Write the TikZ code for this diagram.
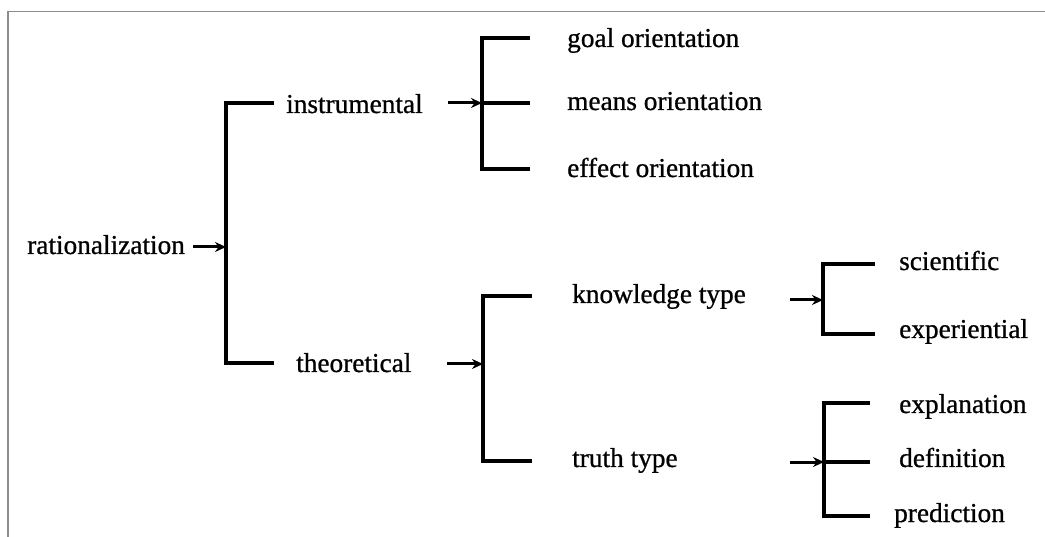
\documentclass[tikz,border=0pt]{standalone}
\usepackage{fontspec}
\setmainfont{Liberation Serif}
\newfontfamily\lblfont[FakeBold=0.8]{Liberation Serif}
\usetikzlibrary{arrows.meta}
\begin{document}
\begin{tikzpicture}[x=1pt,y=-1pt,
  lbl/.style={anchor=base west,inner sep=0pt,font=\lblfont\fontsize{27.3}{30}\selectfont},
  brk/.style={line width=3.2pt,line join=miter},
  arr/.style={line width=3pt,-{Stealth[length=11pt,width=10pt]}},
  frameline/.style={draw=black!45,line width=1.6pt}]
\useasboundingbox (0,0) rectangle (1045,537);
% frame
\coordinate (fTL) at (8,11.5);
\coordinate (fTR) at (1045,11.5);
\coordinate (fBL) at (8,537);
\draw[frameline] (fTR) -- (fTL) -- (fBL);

% labels
\node[lbl] (rat)  at (27,254) {rationalization};
\node[lbl] (ins)  at (286,113) {instrumental};
\node[lbl] (the)  at (296,372) {theoretical};
\node[lbl] (goal) at (567,47)  {goal orientation};
\node[lbl] (mean) at (567,110) {means orientation};
\node[lbl] (eff)  at (567,177) {effect orientation};
\node[lbl] (know) at (572,303) {knowledge type};
\node[lbl] (tru)  at (572,467) {truth type};
\node[lbl] (sci)  at (899,270) {scientific};
\node[lbl] (exp)  at (899,338) {experiential};
\node[lbl] (expl) at (899,413) {explanation};
\node[lbl] (def)  at (899,467) {definition};
\node[lbl] (pred) at (894,522) {prediction};

% bracket 1
\coordinate (b1t) at (226,103); \coordinate (b1b) at (226,363);
\coordinate (b1te) at (274,103); \coordinate (b1be) at (274,363);
\coordinate (b1a) at (226,247); \coordinate (a1) at (193,247);
\draw[brk] (b1te) -- (b1t) -- (b1b) -- (b1be);
\draw[arr] (a1) -- (b1a);

% bracket 2
\coordinate (b2t) at (482,38); \coordinate (b2b) at (482,169);
\coordinate (b2te) at (530,38); \coordinate (b2be) at (530,169);
\coordinate (b2m) at (482,103); \coordinate (b2me) at (530,103);
\coordinate (a2) at (448,103);
\draw[brk] (b2te) -- (b2t) -- (b2b) -- (b2be);
\draw[brk] (b2m) -- (b2me);
\draw[arr] (a2) -- (b2m);

% bracket 3
\coordinate (b3t) at (483,296); \coordinate (b3b) at (483,461);
\coordinate (b3te) at (532,296); \coordinate (b3be) at (532,461);
\coordinate (b3a) at (483,364); \coordinate (a3) at (447,364);
\draw[brk] (b3te) -- (b3t) -- (b3b) -- (b3be);
\draw[arr] (a3) -- (b3a);

% bracket 4
\coordinate (b4t) at (823,264); \coordinate (b4b) at (823,334);
\coordinate (b4te) at (875,264); \coordinate (b4be) at (875,334);
\coordinate (b4a) at (823,300); \coordinate (a4) at (790,300);
\draw[brk] (b4te) -- (b4t) -- (b4b) -- (b4be);
\draw[arr] (a4) -- (b4a);

% bracket 5
\coordinate (b5t) at (824,403); \coordinate (b5b) at (824,516);
\coordinate (b5te) at (870,403); \coordinate (b5be) at (870,516);
\coordinate (b5m) at (824,462); \coordinate (b5me) at (870,462);
\coordinate (a5) at (790,462);
\draw[brk] (b5te) -- (b5t) -- (b5b) -- (b5be);
\draw[brk] (b5m) -- (b5me);
\draw[arr] (a5) -- (b5m);
\end{tikzpicture}
\end{document}
